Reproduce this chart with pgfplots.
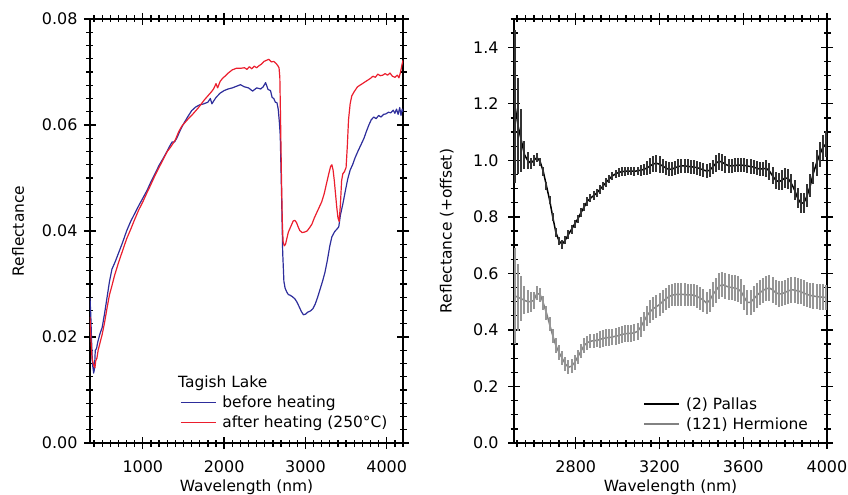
\documentclass[border=0pt]{standalone}
\usepackage{fontspec}
\setmainfont{DejaVu Sans}
\usepackage{pgfplots}
\usepackage{pgfplotstable}
\pgfplotsset{compat=1.18}

\definecolor{tlblue}{RGB}{45,45,155}
\definecolor{tlred}{RGB}{235,30,45}
\definecolor{hgray}{RGB}{130,130,130}
\definecolor{hbar}{RGB}{150,150,150}

% Tagish Lake, before heating
\pgfplotstableread{
x y
350 0.0274
360 0.0240
370 0.0190
380 0.0150
395 0.0132
405 0.0140
415 0.0175
430 0.0178
445 0.0190
470 0.0205
500 0.0218
530 0.0245
560 0.0275
590 0.0305
620 0.0328
660 0.0342
700 0.0358
750 0.0378
800 0.0400
850 0.0418
900 0.0433
950 0.0448
1000 0.0462
1050 0.0476
1100 0.0493
1150 0.0508
1200 0.0524
1250 0.0537
1300 0.0551
1330 0.0560
1360 0.0568
1390 0.0568
1420 0.0576
1460 0.0590
1500 0.0602
1550 0.0615
1600 0.0627
1650 0.0634
1700 0.0638
1750 0.0640
1800 0.0643
1830 0.0650
1850 0.0640
1870 0.0645
1900 0.0652
1950 0.0660
2000 0.0665
2050 0.0668
2100 0.0670
2150 0.0673
2200 0.0676
2250 0.0672
2300 0.0670
2350 0.0664
2400 0.0670
2450 0.0668
2480 0.0672
2510 0.0680
2540 0.0667
2570 0.0665
2590 0.0652
2610 0.0650
2630 0.0643
2650 0.0642
2665 0.0630
2680 0.0604
2690 0.0580
2705 0.0480
2720 0.0360
2735 0.0305
2750 0.0292
2770 0.0285
2790 0.0280
2810 0.0279
2840 0.0276
2870 0.0272
2895 0.0266
2920 0.0258
2950 0.0248
2975 0.0242
3000 0.0243
3030 0.0247
3060 0.0249
3090 0.0253
3120 0.0262
3150 0.0275
3180 0.0290
3210 0.0305
3240 0.0322
3270 0.0345
3300 0.0372
3325 0.0389
3360 0.0399
3390 0.0404
3410 0.0408
3430 0.0430
3460 0.0451
3490 0.0475
3520 0.0498
3550 0.0515
3580 0.0525
3610 0.0538
3650 0.0552
3690 0.0565
3720 0.0575
3750 0.0588
3780 0.0600
3810 0.0610
3840 0.0615
3870 0.0612
3900 0.0618
3930 0.0615
3960 0.0620
3990 0.0621
4020 0.0624
4050 0.0623
4080 0.0628
4100 0.0622
4120 0.0630
4140 0.0620
4160 0.0633
4175 0.0618
4190 0.0630
4200 0.0625
}\before

% Tagish Lake, after heating
\pgfplotstableread{
x y
350 0.0238
360 0.0200
375 0.0160
390 0.0150
400 0.0145
411 0.0142
420 0.0155
435 0.0160
450 0.0175
473 0.0189
500 0.0205
530 0.0228
560 0.0255
590 0.0280
617 0.0295
650 0.0315
700 0.0340
740 0.0358
800 0.0385
850 0.0403
900 0.0422
950 0.0440
1000 0.0455
1050 0.0472
1100 0.0488
1150 0.0505
1200 0.0520
1250 0.0535
1300 0.0550
1340 0.0558
1370 0.0565
1400 0.0572
1440 0.0587
1480 0.0598
1520 0.0605
1560 0.0612
1600 0.0618
1640 0.0625
1680 0.0632
1720 0.0640
1760 0.0648
1800 0.0655
1840 0.0662
1870 0.0668
1900 0.0678
1920 0.0670
1950 0.0682
1980 0.0688
2010 0.0692
2050 0.0698
2100 0.0704
2150 0.0707
2200 0.0707
2250 0.0708
2280 0.0705
2310 0.0710
2340 0.0706
2370 0.0711
2400 0.0708
2430 0.0712
2460 0.0715
2490 0.0720
2520 0.0722
2550 0.0724
2580 0.0719
2610 0.0720
2640 0.0716
2660 0.0712
2675 0.0708
2685 0.0690
2695 0.0600
2705 0.0500
2715 0.0420
2725 0.0380
2740 0.0372
2755 0.0375
2770 0.0385
2790 0.0398
2810 0.0405
2830 0.0412
2850 0.0419
2870 0.0420
2890 0.0416
2910 0.0408
2930 0.0401
2960 0.0397
2990 0.0398
3020 0.0400
3050 0.0406
3080 0.0413
3110 0.0425
3140 0.0435
3170 0.0445
3200 0.0455
3230 0.0470
3260 0.0490
3290 0.0510
3310 0.0522
3325 0.0525
3340 0.0515
3355 0.0495
3370 0.0470
3385 0.0445
3400 0.0425
3415 0.0418
3430 0.0450
3445 0.0495
3460 0.0508
3480 0.0512
3500 0.0520
3515 0.0560
3530 0.0610
3550 0.0640
3570 0.0655
3600 0.0663
3640 0.0672
3680 0.0676
3710 0.0679
3740 0.0682
3770 0.0685
3800 0.0688
3830 0.0692
3860 0.0690
3890 0.0696
3920 0.0693
3950 0.0694
3980 0.0697
4010 0.0694
4040 0.0698
4070 0.0692
4100 0.0690
4130 0.0694
4150 0.0689
4170 0.0700
4185 0.0712
4200 0.0722
}\after

% (2) Pallas
\pgfplotstableread{
x y e
2510 1.19 .27
2525 1.12 .17
2540 1.07 .11
2555 1.02 .05
2570 1.00 .03
2585 0.99 .02
2600 1.00 .02
2615 1.01 .015
2630 0.995 .015
2645 0.96 .015
2660 0.91 .015
2675 0.86 .015
2690 0.80 .015
2705 0.745 .015
2720 0.715 .015
2735 0.703 .015
2750 0.718 .015
2765 0.738 .015
2780 0.756 .015
2795 0.775 .015
2810 0.793 .015
2825 0.815 .015
2840 0.835 .015
2855 0.855 .015
2870 0.866 .015
2885 0.875 .015
2900 0.884 .015
2915 0.897 .015
2930 0.909 .015
2945 0.922 .015
2960 0.934 .015
2975 0.945 .015
2990 0.952 .015
3005 0.957 .015
3020 0.96 .015
3035 0.961 .015
3050 0.962 .015
3065 0.962 .015
3080 0.961 .015
3095 0.963 .015
3110 0.965 .02
3125 0.968 .02
3140 0.973 .025
3155 0.98 .03
3170 0.987 .03
3185 0.99 .03
3200 0.986 .03
3215 0.98 .025
3230 0.973 .025
3245 0.968 .025
3260 0.969 .025
3275 0.974 .025
3290 0.978 .025
3305 0.98 .025
3320 0.98 .025
3335 0.979 .025
3350 0.977 .025
3365 0.976 .025
3380 0.974 .025
3395 0.97 .025
3410 0.966 .025
3425 0.962 .025
3440 0.965 .025
3455 0.977 .025
3470 0.99 .03
3485 0.997 .03
3500 0.993 .03
3515 0.986 .03
3530 0.981 .025
3545 0.98 .025
3560 0.982 .025
3575 0.983 .025
3590 0.983 .025
3605 0.982 .025
3620 0.98 .025
3635 0.978 .025
3650 0.976 .025
3665 0.972 .025
3680 0.969 .025
3695 0.97 .025
3710 0.972 .03
3725 0.962 .03
3740 0.945 .03
3755 0.93 .03
3770 0.924 .03
3785 0.93 .035
3800 0.938 .035
3815 0.935 .035
3830 0.918 .035
3845 0.895 .035
3860 0.866 .035
3875 0.848 .035
3890 0.85 .035
3905 0.875 .04
3920 0.91 .04
3935 0.955 .04
3950 0.99 .045
3965 1.02 .045
3980 1.045 .045
3995 1.058 .045
}\pallas

% (121) Hermione
\pgfplotstableread{
x y e
2510 0.52 .17
2525 0.515 .12
2540 0.51 .08
2555 0.505 .05
2570 0.50 .04
2585 0.50 .035
2600 0.505 .03
2615 0.53 .025
2630 0.525 .025
2645 0.495 .025
2660 0.46 .025
2675 0.42 .025
2690 0.38 .025
2705 0.345 .025
2720 0.32 .025
2735 0.30 .025
2750 0.28 .025
2765 0.268 .025
2780 0.272 .025
2795 0.285 .025
2810 0.305 .025
2825 0.325 .025
2840 0.345 .025
2855 0.355 .025
2870 0.36 .025
2885 0.362 .025
2900 0.363 .025
2915 0.366 .03
2930 0.37 .03
2945 0.372 .03
2960 0.373 .03
2975 0.375 .03
2990 0.378 .03
3005 0.38 .03
3020 0.384 .03
3035 0.386 .03
3050 0.388 .03
3065 0.388 .03
3080 0.39 .03
3095 0.395 .03
3110 0.41 .035
3125 0.43 .035
3140 0.45 .035
3155 0.465 .04
3170 0.475 .04
3185 0.482 .04
3200 0.49 .04
3215 0.5 .04
3230 0.51 .04
3245 0.518 .04
3260 0.523 .04
3275 0.525 .04
3290 0.526 .04
3305 0.526 .04
3320 0.525 .04
3335 0.524 .04
3350 0.524 .04
3365 0.523 .04
3380 0.518 .04
3395 0.512 .04
3410 0.505 .04
3425 0.495 .04
3440 0.505 .04
3455 0.525 .045
3470 0.54 .045
3485 0.555 .045
3500 0.56 .045
3515 0.556 .045
3530 0.552 .045
3545 0.55 .045
3560 0.548 .045
3575 0.545 .045
3590 0.535 .045
3605 0.515 .045
3620 0.497 .045
3635 0.498 .045
3650 0.51 .045
3665 0.522 .045
3680 0.532 .045
3695 0.54 .045
3710 0.546 .045
3725 0.548 .045
3740 0.542 .045
3755 0.532 .045
3770 0.527 .045
3785 0.528 .045
3800 0.533 .045
3815 0.538 .045
3830 0.542 .045
3845 0.541 .045
3860 0.538 .045
3875 0.535 .045
3890 0.53 .045
3905 0.526 .045
3920 0.522 .045
3935 0.52 .045
3950 0.518 .045
3965 0.517 .045
3980 0.516 .045
3995 0.515 .045
}\hermione

\pgfplotsset{
  panel/.style={
    scale only axis, width=313bp, height=424bp,
    tick align=center, major tick length=12bp, minor tick length=7bp,
    every tick/.style={black, line width=1.3bp},
    axis line style={line width=1.4bp},
    tick label style={font=\fontsize{16}{18}\selectfont},
    label style={font=\fontsize{15.5}{18}\selectfont},
    xticklabel style={yshift=-8bp},
    scaled ticks=false,
    /pgf/number format/assume math mode=true,
    /pgf/number format/set thousands separator={},
    xlabel={Wavelength (nm)},
    xlabel style={at={(axis description cs:0.5,-0.1038)}, anchor=center},
    legend cell align=left,
    legend image code/.code={\draw[##1] (0bp,0bp) -- (35bp,0bp);},
    legend style={draw=none, fill=none, inner sep=0pt,
      font=\fontsize{15.5}{18}\selectfont, row sep=3bp,
      /tikz/every odd column/.append style={column sep=4bp}},
  },
}

\begin{document}
\begin{tikzpicture}
\useasboundingbox (-90bp,-52bp) rectangle (758bp,443bp);

\begin{axis}[panel,
  xmin=350, xmax=4200, ymin=0, ymax=0.08,
  xtick={1000,2000,3000,4000},
  minor xtick={400,500,...,4200},
  ytick={0,0.02,0.04,0.06,0.08},
  minor ytick={0,0.0025,...,0.08},
  yticklabel style={xshift=-3bp, /pgf/number format/fixed,
    /pgf/number format/fixed zerofill, /pgf/number format/precision=2},
  ylabel={Reflectance},
  ylabel style={at={(axis description cs:-0.230,0.5)}, anchor=center},
  legend style={at={(rel axis cs:0.2875,0.116)}, anchor=north west},
]
\addplot[tlblue, line width=1.2bp, line join=round] table[x=x, y=y] {\before};
\addlegendentry{before heating}
\addplot[tlred, line width=1.2bp, line join=round] table[x=x, y=y] {\after};
\addlegendentry{after heating (250°C)}
\node[anchor=west, inner sep=0pt, font=\fontsize{15.5}{18}\selectfont]
  at (axis cs:1432,0.0113) {Tagish Lake};
\end{axis}

\begin{axis}[panel, at={(424bp,0bp)},
  xmin=2505, xmax=4000, ymin=0, ymax=1.5,
  xtick={2800,3200,3600,4000},
  minor xtick={2520,2560,...,4000},
  ytick={0,0.2,...,1.4},
  minor ytick={0,0.05,...,1.5},
  yticklabel style={xshift=-6bp, /pgf/number format/fixed,
    /pgf/number format/fixed zerofill, /pgf/number format/precision=1},
  ylabel={Reflectance (+offset)},
  ylabel style={at={(axis description cs:-0.215,0.5)}, anchor=center},
  legend style={at={(rel axis cs:0.4135,0.113)}, anchor=north west},
]
\addplot[black, line width=1.5bp, line join=round,
  error bars/.cd, y dir=both, y explicit, error mark=none,
  error bar style={black!80, line width=2bp}]
  table[x=x, y=y, y error=e] {\pallas};
\addlegendentry{(2) Pallas}
\addplot[hgray, line width=1.5bp, line join=round,
  error bars/.cd, y dir=both, y explicit, error mark=none,
  error bar style={hbar, line width=2bp}]
  table[x=x, y=y, y error=e] {\hermione};
\addlegendentry{(121) Hermione}
\end{axis}
\end{tikzpicture}
\end{document}
